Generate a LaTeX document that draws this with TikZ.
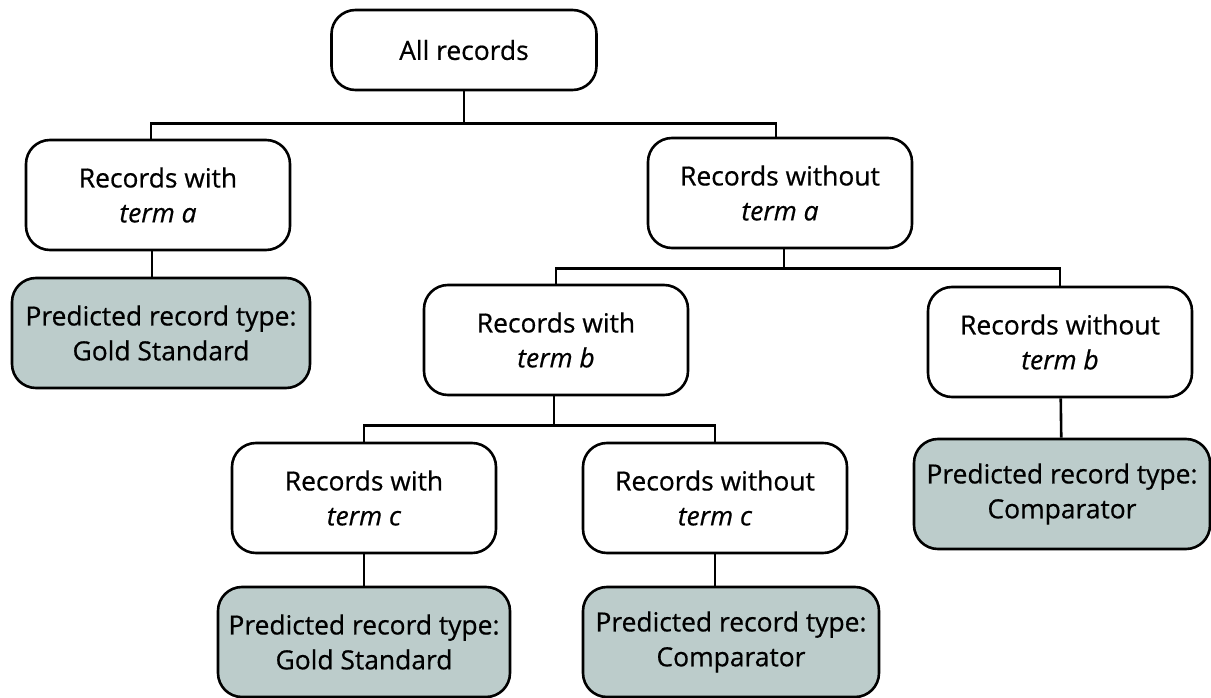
\documentclass[tikz,border=0pt]{standalone}
\usepackage{fontspec}
\setmainfont{Open Sans}[FakeBold=0.6]
\usepackage{tikz}
\usepackage{xcolor}
\definecolor{predfill}{HTML}{BCCCCB}

\begin{document}
\begin{tikzpicture}[x=1bp, y=-1bp, line width=2.6bp,
  rec/.style = {draw, rounded corners=24bp, align=center, inner sep=0pt,
                minimum width=264bp, minimum height=110bp,
                font=\fontsize{26.5}{35}\selectfont},
  pred/.style = {rec, fill=predfill, minimum width=296bp}]
\useasboundingbox (0,0) rectangle (1211,698);
\node[rec, minimum width=265bp, minimum height=80bp] (all) at (464,50) {All records};
\node[rec] (witha) at (158,195) {Records with\\\textit{term a}};
\node[rec] (withouta) at (780,193) {Records without\\\textit{term a}};
\node[pred, minimum width=298bp] (predgs) at (161,333) {Predicted record type:\\Gold Standard};
\node[rec] (withb) at (556,340) {Records with\\\textit{term b}};
\node[rec] (withoutb) at (1060,342) {Records without\\\textit{term b}};
\node[pred] (predcomp) at (1062,494) {Predicted record type:\\Comparator};
\node[rec] (withc) at (364,498) {Records with\\\textit{term c}};
\node[rec] (withoutc) at (715,498) {Records without\\\textit{term c}};
\node[pred, minimum width=292bp] (predgsc) at (364,642) {Predicted record type:\\Gold Standard};
\node[pred] (predcompc) at (731,642) {Predicted record type:\\Comparator};

\draw (all.south) -- ++(0,32) -| ([xshift=-7bp]witha.north);
\draw (all.south) -- ++(0,32) -| ([xshift=-4bp]withouta.north);
\draw ([xshift=-6bp]witha.south) -- ([xshift=-6bp]witha.south |- predgs.north);
\draw ([xshift=4bp]withouta.south) -- ++(0,19) -| (withb.north);
\draw ([xshift=4bp]withouta.south) -- ++(0,19) -| (withoutb.north);
\draw (withoutb) -- (predcomp);
\draw ([xshift=-2bp]withb.south) -- ++(0,29) -| (withc.north);
\draw ([xshift=-2bp]withb.south) -- ++(0,29) -| (withoutc.north);
\draw (withc) -- (predgsc);
\draw (withoutc.south) -- (withoutc.south |- predcompc.north);

\end{tikzpicture}
\end{document}
